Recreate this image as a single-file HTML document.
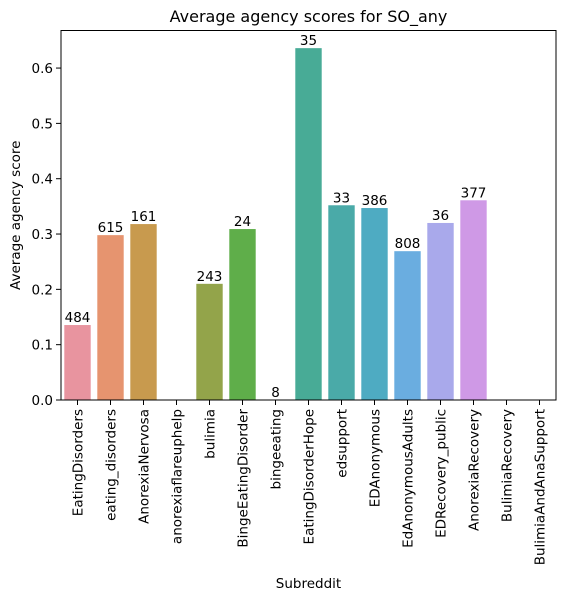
<!DOCTYPE html>
<html><head><meta charset="utf-8"><style>
body{margin:0;background:#fff;}
svg{display:block;font-family:"DejaVu Sans","Liberation Sans",sans-serif;}
</style></head><body>
<svg id="chart" width="567" height="600"></svg>
<script>
const categories=["EatingDisorders","eating_disorders","AnorexiaNervosa","anorexiaflareuphelp","bulimia","BingeEatingDisorder","bingeeating","EatingDisorderHope","edsupport","EDAnonymous","EdAnonymousAdults","EDRecovery_public","AnorexiaRecovery","BulimiaRecovery","BulimiaAndAnaSupport"];
const scores=[0.1355,0.298,0.318,0,0.21,0.309,0,0.636,0.352,0.347,0.269,0.32,0.361,0,0];
const counts=["484","615","161","","243","24","8","35","33","386","808","36","377","",""];
const colors=["#e8949f","#e6946f","#c89a4e","#b0a04a","#93a44a","#5fae4a","#4aac78","#48ab96","#4aaaa8","#4eabc2","#6aade0","#a9a9eb","#cf99e6","#e294d6","#e893b8"];
const yTicks=[0,0.1,0.2,0.3,0.4,0.5,0.6];
const NS="http://www.w3.org/2000/svg";
const svg=document.getElementById('chart');
const L=61,R=556,T=30.5,B=400;
const yMax=0.6679;
const y=v=>B-(v/yMax)*(B-T);
const slot=(R-L)/categories.length;
const xc=i=>L+slot*(i+0.5);
function mk(tag,attrs,parent){const e=document.createElementNS(NS,tag);for(const k in attrs)e.setAttribute(k,attrs[k]);(parent||svg).appendChild(e);return e;}
categories.forEach((c,i)=>{
  const h=B-y(scores[i]);
  const r=mk('rect',{x:xc(i)-slot*0.4,y:y(scores[i]),width:slot*0.8,height:h,fill:colors[i]});
  
  
  if(counts[i]){
    const t=mk('text',{x:xc(i),y:y(scores[i])-3,'text-anchor':'middle','font-size':'13.5'});
    t.textContent=counts[i];
    
    
  }
  mk('line',{x1:xc(i),x2:xc(i),y1:B,y2:B+5,stroke:'#000','stroke-width':1});
  const lb=mk('text',{x:0,y:0,'text-anchor':'end','font-size':'13.5',transform:`translate(${xc(i)+5},${B+9}) rotate(-90)`});
  lb.textContent=c;
  
  
});
yTicks.forEach(v=>{
  mk('line',{x1:L-5,x2:L,y1:y(v),y2:y(v),stroke:'#000','stroke-width':1});
  const t=mk('text',{x:L-8,y:y(v)+5,'text-anchor':'end','font-size':'13.5'});
  t.textContent=v.toFixed(1);
  
  
});
const fr=mk('rect',{x:L,y:T,width:R-L,height:B-T,fill:'none',stroke:'#000','stroke-width':1});


const ti=mk('text',{x:(L+R)/2,y:22,'text-anchor':'middle','font-size':'16'});
ti.textContent='Average agency scores for SO_any';


const xt=mk('text',{x:(L+R)/2,y:588,'text-anchor':'middle','font-size':'13.5'});
xt.textContent='Subreddit';


const yt=mk('text',{x:0,y:0,'text-anchor':'middle','font-size':'13.5',transform:`translate(20,${(T+B)/2}) rotate(-90)`});
yt.textContent='Average agency score';


</script>
</body></html>
